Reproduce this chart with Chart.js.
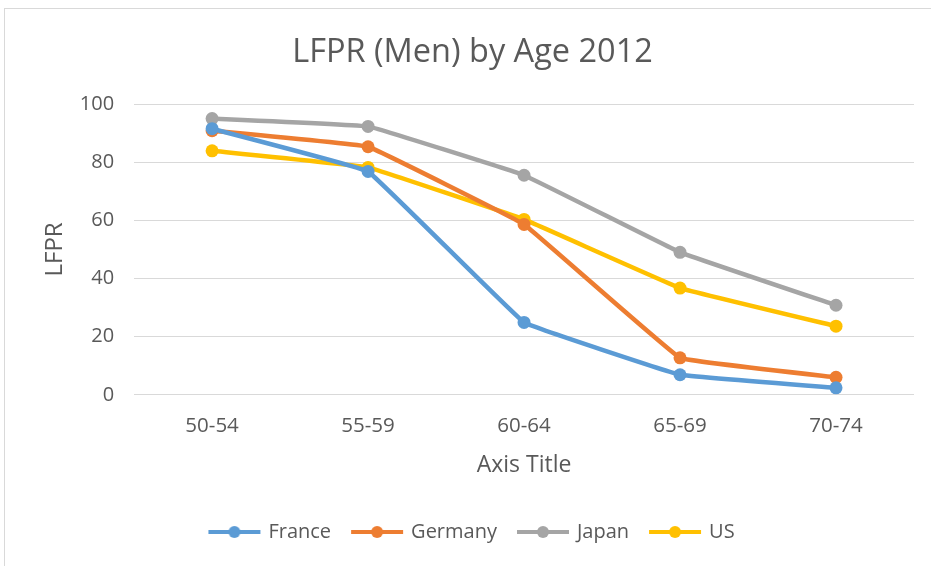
<!DOCTYPE html>
<html>
<head>
<meta charset="utf-8">
<script src="https://cdn.jsdelivr.net/npm/chart.js@4"></script>
<style>
  html, body { margin: 0; padding: 0; background: #fff; overflow: hidden; }
  #wrap { position: relative; width: 931px; height: 566px; }
  #frame { position: absolute; left: 4px; top: 8px; right: -10px; bottom: -10px;
           border-left: 1px solid #d9d9d9; border-top: 1px solid #d9d9d9; }
  canvas { position: absolute; left: 0; top: 0; }
</style>
</head>
<body>
<div id="wrap">
  <div id="frame"></div>
  <canvas id="lfprChart" width="931" height="566"></canvas>
</div>
<script>
const ageGroups = ["50-54", "55-59", "60-64", "65-69", "70-74"];
const franceValues = [91.5, 76.8, 24.9, 6.9, 2.4];
const germanyValues = [90.8, 85.3, 58.6, 12.7, 6.0];
const japanValues = [95.0, 92.3, 75.5, 49.0, 30.8];
const usValues = [83.9, 78.2, 60.3, 36.7, 23.6];
const yTicks = [0, 20, 40, 60, 80, 100];

const seriesNames = ["France", "Germany", "Japan", "US"];
const seriesColors = ["#5B9BD5", "#ED7D31", "#A5A5A5", "#FFC000"];
const seriesValues = [franceValues, germanyValues, japanValues, usValues];

const fontFamily = "'Open Sans', 'Noto Sans', sans-serif";
const textColor = "#595959";

// legend marker: short line with a dot in the middle
function legendMarker(color) {
    const c = document.createElement("canvas");
    c.width = 54;
    c.height = 14;
    const g = c.getContext("2d");
    g.strokeStyle = color;
    g.lineWidth = 4;
    g.beginPath();
    g.moveTo(1, 7);
    g.lineTo(53, 7);
    g.stroke();
    g.fillStyle = color;
    g.beginPath();
    g.arc(27, 7, 6, 0, Math.PI * 2);
    g.fill();
    return c;
}
const markers = seriesColors.map(legendMarker);

const dataLfpr = {
    labels: ageGroups,
    datasets: seriesNames.map((name, i) => ({
        label: name,
        data: seriesValues[i],
        borderColor: seriesColors[i],
        backgroundColor: seriesColors[i],
        borderWidth: 4.5,
        pointRadius: 6.5,
        pointHoverRadius: 6.5,
        pointBorderWidth: 0,
        tension: 0.05,
        fill: false
    }))
};

const ctxLfpr = document.getElementById("lfprChart").getContext("2d");
new Chart(ctxLfpr, {
    type: "line",
    data: dataLfpr,
    options: {
        responsive: false,
        animation: false,
        layout: { padding: { left: 31, right: 17, top: 24, bottom: 14 } },
        plugins: {
            title: {
                display: true,
                text: "LFPR (Men) by Age 2012",
                color: textColor,
                font: { family: fontFamily, size: 32.5, weight: "normal" },
                padding: { top: 9, bottom: 32 }
            },
            legend: {
                position: "bottom",
                labels: {
                    color: textColor,
                    font: { family: fontFamily, size: 20 },
                    usePointStyle: true,
                    pointStyleWidth: 48,
                    boxHeight: 14,
                    padding: 22,
                    generateLabels: chart => {
                        const items = Chart.defaults.plugins.legend.labels.generateLabels(chart);
                        items.forEach((it, i) => { it.pointStyle = markers[i]; });
                        return items;
                    }
                }
            },
            tooltip: { enabled: false }
        },
        scales: {
            x: {
                offset: true,
                grid: { display: false, drawTicks: false },
                border: { display: false },
                ticks: { color: textColor, font: { family: fontFamily, size: 20.5 }, padding: 19 },
                title: {
                    display: true,
                    text: "Axis Title",
                    color: textColor,
                    font: { family: fontFamily, size: 23 },
                    padding: { top: -6, bottom: 21 }
                }
            },
            y: {
                min: 0,
                max: 100,
                afterBuildTicks: axis => { axis.ticks = yTicks.map(v => ({ value: v })); },
                grid: { color: "#d9d9d9", lineWidth: 1, drawTicks: false },
                border: { display: false },
                ticks: { color: textColor, font: { family: fontFamily, size: 20 }, padding: 20 },
                title: {
                    display: true,
                    text: "LFPR",
                    color: textColor,
                    font: { family: fontFamily, size: 24 },
                    padding: { top: 10, bottom: -10 }
                }
            }
        }
    }
});
</script>
</body>
</html>
